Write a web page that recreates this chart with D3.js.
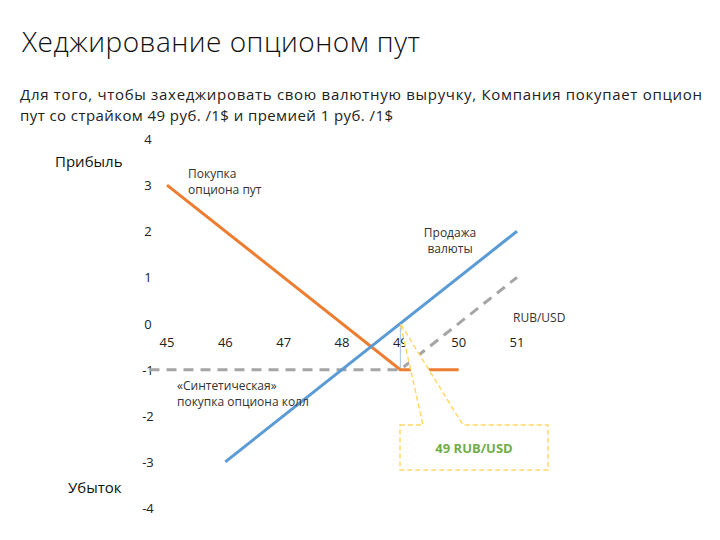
<!DOCTYPE html>
<html>
<head>
<meta charset="utf-8">
<script src="https://cdn.jsdelivr.net/npm/d3@7"></script>
<style>
  body { margin: 0; background: #fff; }
  text { font-family: "Open Sans", "Noto Sans", sans-serif; }
</style>
</head>
<body>
<script>
const xTicks = [45, 46, 47, 48, 49, 50, 51]
const yTicks = [4, 3, 2, 1, 0, -1, -2, -3, -4]
// покупка опциона пут: страйк 49, премия 1
const putLine = [[45, 3], [49, -1], [50, -1]]
// продажа валюты
const saleLine = [[46, -3], [51, 2]]
// синтетический колл
const synthLine = [[44.7, -1], [49, -1], [51, 1]]
const strike = 49

const m = { width: 720, height: 540 }

const svg = d3.select('body').append('svg')
    .attr('width', m.width)
    .attr('height', m.height)

const x = d3.scaleLinear().domain([45, 51]).range([167, 517])
const y = d3.scaleLinear().domain([-4, 4]).range([508, 139])

// заголовок и текст
svg.append('text')
    .attr('x', 22).attr('y', 52)
    .attr('font-size', 28).attr('font-weight', 300)
    .attr('fill', '#111')
    .attr('textLength', 398).attr('lengthAdjust', 'spacing')
    .text('Хеджирование опционом пут')

svg.append('text')
    .attr('x', 20).attr('y', 100)
    .attr('font-size', 15).attr('fill', '#222')
    .attr('textLength', 682).attr('lengthAdjust', 'spacing')
    .text('Для того, чтобы захеджировать свою валютную выручку, Компания покупает опцион')
svg.append('text')
    .attr('x', 20).attr('y', 121)
    .attr('font-size', 15).attr('fill', '#222')
    .attr('textLength', 373).attr('lengthAdjust', 'spacing')
    .text('пут со страйком 49 руб. /1$ и премией 1 руб. /1$')

svg.append('text').attr('x', 55).attr('y', 167)
    .attr('font-size', 15).attr('fill', '#111').text('Прибыль')
svg.append('text').attr('x', 68).attr('y', 493)
    .attr('font-size', 15).attr('fill', '#111').text('Убыток')

// оси без линий, только подписи
const ga = svg.append('g')
ga.selectAll('.yt')
    .data(yTicks)
    .enter()
    .append('text')
        .attr('x', 148)
        .attr('y', d => y(d) + 5)
        .attr('text-anchor', 'middle')
        .attr('font-size', 13)
        .attr('fill', '#222')
        .text(d => d)

ga.selectAll('.xt')
    .data(xTicks)
    .enter()
    .append('text')
        .attr('x', d => x(d))
        .attr('y', y(0) + 23)
        .attr('text-anchor', 'middle')
        .attr('font-size', 13)
        .attr('fill', '#222')
        .text(d => d)

const line = d3.line().x(d => x(d[0])).y(d => y(d[1]))

svg.append('line')
    .attr('x1', x(strike)).attr('x2', x(strike))
    .attr('y1', y(0)).attr('y2', y(-1))
    .attr('stroke', '#9dc3e6').attr('stroke-width', 1)

svg.append('path')
    .attr('d', line(synthLine))
    .attr('fill', 'none')
    .attr('stroke', '#a5a5a5')
    .attr('stroke-width', 3)
    .attr('stroke-dasharray', '10,7')

svg.append('path')
    .attr('d', line(putLine))
    .attr('fill', 'none')
    .attr('stroke', '#ed7d31')
    .attr('stroke-width', 3)

svg.append('path')
    .attr('d', line(saleLine))
    .attr('fill', 'none')
    .attr('stroke', '#5b9bd5')
    .attr('stroke-width', 3)

// подписи линий
function label(tx, ty, lines, anchor) {
    const t = svg.append('text')
        .attr('font-size', 12).attr('fill', '#333')
        .attr('text-anchor', anchor || 'start')
    lines.forEach((s, i) => {
        t.append('tspan').attr('x', tx).attr('y', ty + i * 16).text(s)
    })
}
label(188, 178, ['Покупка', 'опциона пут'])
label(450, 237, ['Продажа', 'валюты'], 'middle')
label(513, 322, ['RUB/USD'])
label(177, 390, ['«Синтетическая»', 'покупка опциона колл'])

// выноска
const tipX = x(strike), tipY = y(0)
const bx0 = 400, bx1 = 548, by0 = 425, by1 = 470
const callout = [
    [bx0, by0], [423, by0], [tipX, tipY], [463, by0],
    [bx1, by0], [bx1, by1], [bx0, by1]
]
svg.append('path')
    .attr('d', 'M' + callout.map(p => p.join(',')).join('L') + 'Z')
    .attr('fill', '#fff')
    .attr('stroke', '#ffd966')
    .attr('stroke-width', 1.5)
    .attr('stroke-dasharray', '5,3')

svg.append('text')
    .attr('x', (bx0 + bx1) / 2).attr('y', 453)
    .attr('text-anchor', 'middle')
    .attr('font-size', 13).attr('font-weight', 'bold')
    .attr('fill', '#70ad47')
    .text('49 RUB/USD')
</script>
</body>
</html>
